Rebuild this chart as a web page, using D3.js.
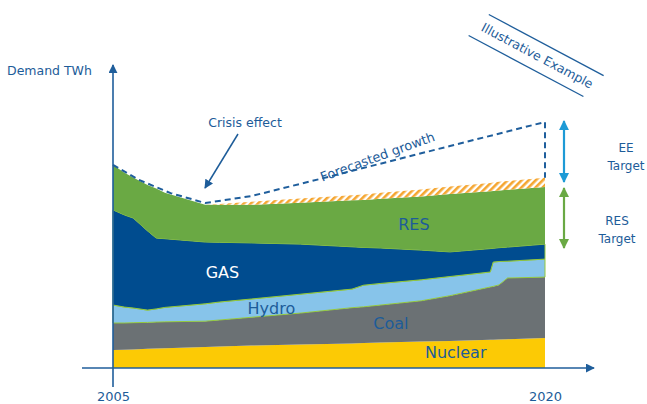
<!DOCTYPE html>
<html>
<head>
<meta charset="utf-8">
<script src="https://cdn.jsdelivr.net/npm/d3@7"></script>
<style>
  html, body { margin: 0; padding: 0; background: #fff; }
  svg { display: block; font-family: "DejaVu Sans", Verdana, sans-serif; }
</style>
</head>
<body>
<svg id="chart" width="647" height="404"></svg>
<script>
// Demand by source (TWh, illustrative units), stacked bottom to top
const years   = [2005, 2005.4, 2005.7, 2006.2, 2006.5, 2006.8, 2008.2, 2008.7, 2009.8, 2011.5, 2013.3, 2013.7, 2014.3, 2015.7, 2016.7, 2018.1, 2018.2, 2018.4, 2018.7, 2020];
const nuclear = [6.0, 6.1, 6.2, 6.4, 6.5, 6.6, 7.0, 7.2, 7.5, 7.8, 8.2, 8.3, 8.5, 8.8, 9.0, 9.4, 9.4, 9.5, 9.6, 10.0];
const coal    = [9.0, 8.9, 8.9, 8.8, 8.8, 8.8, 8.6, 8.8, 9.4, 10.5, 11.9, 12.1, 12.5, 13.6, 15.1, 17.6, 17.8, 18.2, 20.4, 20.3];
const hydro   = [6.0, 5.3, 4.9, 4.1, 4.4, 4.8, 5.8, 6.0, 6.1, 6.3, 6.2, 7.2, 7.2, 7.0, 6.4, 5.0, 8.1, 7.8, 5.6, 6.0];
const gas     = [31.7, 30.7, 30.0, 26.4, 23.6, 22.9, 20.6, 19.9, 18.7, 16.7, 14.1, 12.6, 11.8, 9.9, 8.2, 7.8, 4.6, 4.6, 4.7, 5.0];
const res     = [15.0, 14.1, 13.5, 15.3, 16.5, 15.3, 12.4, 12.5, 12.7, 13.8, 15.5, 15.8, 16.4, 17.9, 19.3, 19.1, 19.1, 19.1, 19.1, 19.0];
const savings = [0, 0, 0, 0, 0, 0, 0, 0.3, 1.0, 1.4, 1.7, 1.8, 2.0, 2.3, 2.5, 2.8, 2.8, 2.9, 2.9, 3.1];

// Demand path without the crisis and efficiency measures
const forecastYears  = [2005, 2005.9, 2007.0, 2008.2, 2009.8, 2012.6, 2016.7, 2020];
const forecastDemand = [67.7, 62.7, 58.3, 55.0, 57.3, 64.0, 74.0, 82.0];

const tickYears = [2005, 2020];

// Target ranges at 2020
const eeTarget  = [62, 82.3];
const resTarget = [40, 60];

const seriesKeys = ["nuclear", "coal", "hydro", "gas", "res", "savings"];
const seriesData = { nuclear, coal, hydro, gas, res, savings };
const table = years.map((yr, i) => {
  const row = { year: yr };
  seriesKeys.forEach(k => row[k] = seriesData[k][i]);
  return row;
});

const TEXT = "#1d5c99";
const AXIS = "#1f5e9b";
const colors = {
  nuclear: "#fcca05",
  coal: "#6b7174",
  hydro: "#87c4ea",
  gas: "#004c8f",
  res: "#6aa944",
  savings: "url(#hatch)"
};

const svg = d3.select("#chart");
const x = d3.scaleLinear().domain([2005, 2020]).range([113, 545]);
const y = d3.scaleLinear().domain([0, 100]).range([368, 68]);

const defs = svg.append("defs");
const pat = defs.append("pattern")
  .attr("id", "hatch").attr("patternUnits", "userSpaceOnUse")
  .attr("width", 5).attr("height", 5)
  .attr("patternTransform", "rotate(45)");
pat.append("rect").attr("width", 5).attr("height", 5).attr("fill", "#fff");
pat.append("rect").attr("width", 2.6).attr("height", 5).attr("fill", "#f5a631");

function arrowMarker(id, color, size) {
  defs.append("marker")
    .attr("id", id).attr("viewBox", "0 0 10 10")
    .attr("refX", 9).attr("refY", 5)
    .attr("markerUnits", "userSpaceOnUse")
    .attr("markerWidth", size).attr("markerHeight", size)
    .attr("orient", "auto-start-reverse")
    .append("path").attr("d", "M0,0 L10,5 L0,10 Z").attr("fill", color);
}
arrowMarker("axisArrow", AXIS, 9);
arrowMarker("noteArrow", TEXT, 9);
arrowMarker("eeArrow", "#1d9ad6", 10);
arrowMarker("resArrow", "#6aa944", 10);

// Stacked areas
const stack = d3.stack().keys(seriesKeys);
const layers = stack(table);
const area = d3.area()
  .x(d => x(d.data.year))
  .y0(d => y(d[0]))
  .y1(d => y(d[1]));

svg.append("g").selectAll("path")
  .data(layers)
  .join("path")
  .attr("d", area)
  .attr("fill", d => colors[d.key])
  .attr("stroke", d => (d.key === "gas" || d.key === "hydro") ? "#93c83e" : "none")
  .attr("stroke-width", 1);

// Forecasted growth (dashed) and drop to the 2020 stack
const fLine = d3.line().x(d => x(d[0])).y(d => y(d[1]));
const fPts = forecastYears.map((yr, i) => [yr, forecastDemand[i]]);
const lastTop = layers[layers.length - 1][years.length - 1][1];
fPts.push([2020, lastTop]);
svg.append("path")
  .attr("d", fLine(fPts))
  .attr("fill", "none")
  .attr("stroke", "#1f5e9c")
  .attr("stroke-width", 2)
  .attr("stroke-dasharray", "6,4");

// Axes
svg.append("line")
  .attr("x1", 82).attr("x2", 594)
  .attr("y1", y(0)).attr("y2", y(0))
  .attr("stroke", AXIS).attr("stroke-width", 1.6)
  .attr("marker-end", "url(#axisArrow)");
svg.append("line")
  .attr("x1", x(2005)).attr("x2", x(2005))
  .attr("y1", y(0) + 19).attr("y2", 65)
  .attr("stroke", AXIS).attr("stroke-width", 1.6)
  .attr("marker-end", "url(#axisArrow)");

const xAxis = d3.axisBottom(x).tickValues(tickYears).tickFormat(d3.format("d"))
  .tickSize(0).tickPadding(24);
const gx = svg.append("g").attr("transform", `translate(0,${y(0)})`).call(xAxis);
gx.select(".domain").remove();
gx.selectAll("text")
  .attr("font-family", "DejaVu Sans, Verdana, sans-serif")
  .attr("font-size", 13).attr("fill", TEXT)
  .attr("stroke", "#fff").attr("stroke-width", 0).attr("paint-order", "stroke");

svg.append("text").attr("x", 7).attr("y", 75)
  .attr("font-size", 12.5).attr("fill", TEXT).text("Demand TWh");

// Series labels
const labels = [
  { t: "RES", yr: 2015.45, v: 46, c: "#1d5c99" },
  { t: "GAS", yr: 2008.8, v: 30, c: "#ffffff" },
  { t: "Hydro", yr: 2010.5, v: 18, c: "#1d5c99" },
  { t: "Coal", yr: 2014.65, v: 13, c: "#1d5c99" },
  { t: "Nuclear", yr: 2016.9, v: 3.3, c: "#1d5c99" }
];
svg.append("g").selectAll("text").data(labels).join("text")
  .attr("x", d => x(d.yr)).attr("y", d => y(d.v))
  .attr("text-anchor", "middle").attr("font-size", 16)
  .attr("fill", d => d.c).text(d => d.t);

// Crisis effect note
svg.append("text").attr("x", 245).attr("y", 127)
  .attr("text-anchor", "middle").attr("font-size", 12.5)
  .attr("fill", TEXT).text("Crisis effect");
svg.append("line")
  .attr("x1", 238).attr("y1", 134).attr("x2", 205).attr("y2", 188)
  .attr("stroke", TEXT).attr("stroke-width", 1.5)
  .attr("marker-end", "url(#noteArrow)");

// Forecasted growth label
svg.append("text")
  .attr("transform", "translate(379,161) rotate(-20)")
  .attr("text-anchor", "middle").attr("font-size", 13)
  .attr("fill", TEXT).text("Forecasted growth");

// Illustrative Example banner
const banner = svg.append("g").attr("transform", "translate(537,56) rotate(28)");
banner.append("text").attr("x", 0).attr("y", 4)
  .attr("text-anchor", "middle").attr("font-size", 12.5)
  .attr("fill", TEXT).text("Illustrative Example");
banner.append("line").attr("x1", -62).attr("x2", 68).attr("y1", -14).attr("y2", -14)
  .attr("stroke", AXIS).attr("stroke-width", 1.3);
banner.append("line").attr("x1", -70).attr("x2", 60).attr("y1", 14).attr("y2", 14)
  .attr("stroke", AXIS).attr("stroke-width", 1.3);

// Target arrows
const ax = x(2020) + 19;
svg.append("line")
  .attr("x1", ax).attr("x2", ax).attr("y1", y(eeTarget[0])).attr("y2", y(eeTarget[1]))
  .attr("stroke", "#1d9ad6").attr("stroke-width", 2.2)
  .attr("marker-start", "url(#eeArrow)").attr("marker-end", "url(#eeArrow)");
svg.append("line")
  .attr("x1", ax).attr("x2", ax).attr("y1", y(resTarget[0])).attr("y2", y(resTarget[1]))
  .attr("stroke", "#6aa944").attr("stroke-width", 2.2)
  .attr("marker-start", "url(#resArrow)").attr("marker-end", "url(#resArrow)");

const notes = [
  { t: "EE", x: 626, y: 152 }, { t: "Target", x: 626, y: 170 },
  { t: "RES", x: 617, y: 225 }, { t: "Target", x: 617, y: 243 }
];
svg.append("g").selectAll("text").data(notes).join("text")
  .attr("x", d => d.x).attr("y", d => d.y)
  .attr("text-anchor", "middle").attr("font-size", 12)
  .attr("fill", TEXT).text(d => d.t);
</script>
</body>
</html>
